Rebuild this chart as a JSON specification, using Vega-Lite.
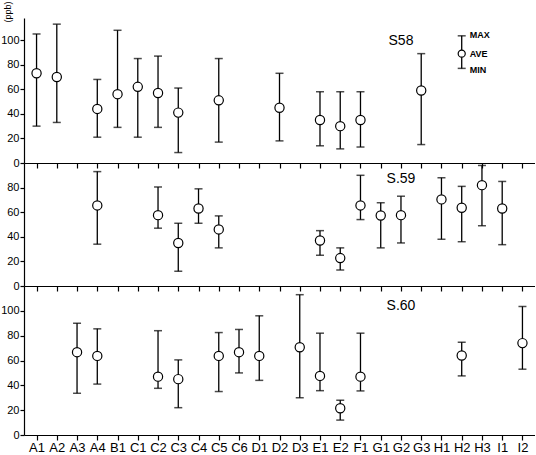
{
  "$schema": "https://vega.github.io/schema/vega-lite/v6.json",
  "padding": {"left": 0, "top": 0, "right": 0, "bottom": 0},
  "spacing": 0,
  "bounds": "flush",
  "config": {
    "font": "Liberation Sans",
    "view": {"stroke": null},
    "axis": {"domainColor": "#000", "tickColor": "#000", "labelColor": "#000", "grid": false, "domainWidth": 1.2, "tickWidth": 1.2, "titleColor": "#000", "labelOverlap": false},
    "axisY": {"labelOverlap": false, "labelFontSize": 11, "tickSize": 4, "labelPadding": 1},
    "concat": {"spacing": 0}
  },
  "datasets": {
    "s58": [
      {"site": "A1", "max": 105, "ave": 73, "min": 30},
      {"site": "A2", "max": 113, "ave": 70, "min": 33},
      {"site": "A4", "max": 68, "ave": 44, "min": 21},
      {"site": "B1", "max": 108, "ave": 56, "min": 29},
      {"site": "C1", "max": 85, "ave": 62, "min": 21},
      {"site": "C2", "max": 87, "ave": 57, "min": 29},
      {"site": "C3", "max": 61, "ave": 41, "min": 8.5},
      {"site": "C5", "max": 85, "ave": 51, "min": 17},
      {"site": "D2", "max": 73, "ave": 45, "min": 18},
      {"site": "E1", "max": 58, "ave": 35, "min": 14},
      {"site": "E2", "max": 58, "ave": 30, "min": 11.5},
      {"site": "F1", "max": 58, "ave": 35, "min": 13},
      {"site": "G3", "max": 89, "ave": 59, "min": 15}
    ],
    "s59": [
      {"site": "A4", "max": 93, "ave": 65.5, "min": 34},
      {"site": "C2", "max": 80.5, "ave": 57.6, "min": 47},
      {"site": "C3", "max": 51, "ave": 35, "min": 12},
      {"site": "C4", "max": 79, "ave": 63, "min": 51},
      {"site": "C5", "max": 57, "ave": 46, "min": 31},
      {"site": "E1", "max": 45, "ave": 37, "min": 25},
      {"site": "E2", "max": 31, "ave": 22.7, "min": 13},
      {"site": "F1", "max": 90, "ave": 65.5, "min": 54},
      {"site": "G1", "max": 67.7, "ave": 57.3, "min": 31},
      {"site": "G2", "max": 73, "ave": 57.6, "min": 35},
      {"site": "H1", "max": 88, "ave": 70.4, "min": 38},
      {"site": "H2", "max": 81, "ave": 63.6, "min": 36},
      {"site": "H3", "max": 98, "ave": 82, "min": 49},
      {"site": "I1", "max": 85, "ave": 63, "min": 33.6}
    ],
    "s60": [
      {"site": "A3", "max": 90, "ave": 66.7, "min": 33.6},
      {"site": "A4", "max": 85.5, "ave": 63.7, "min": 41},
      {"site": "C2", "max": 84, "ave": 47, "min": 37.6},
      {"site": "C3", "max": 60.5, "ave": 45, "min": 22},
      {"site": "C5", "max": 82.5, "ave": 63.7, "min": 35},
      {"site": "C6", "max": 85, "ave": 66.7, "min": 50},
      {"site": "D1", "max": 96, "ave": 63.7, "min": 44},
      {"site": "D3", "max": 113, "ave": 70.7, "min": 30},
      {"site": "E1", "max": 82, "ave": 47.6, "min": 35.7},
      {"site": "E2", "max": 28, "ave": 21.5, "min": 12},
      {"site": "F1", "max": 82, "ave": 47, "min": 35.5},
      {"site": "H2", "max": 74.7, "ave": 64, "min": 47.6},
      {"site": "I2", "max": 103.5, "ave": 74, "min": 53}
    ],
    "legend": [
      {"site": "H2", "max": 103.5, "ave": 89, "min": 77}
    ],
    "legendText": [
      {"site": "H2", "v": 104, "t": "MAX"},
      {"site": "H2", "v": 89, "t": "AVE"},
      {"site": "H2", "v": 76, "t": "MIN"}
    ]
  },
  "vconcat": [
    {
      "width": 511,
      "height": 145,
      "encoding": {
        "x": {"field": "site", "type": "nominal", "scale": {"type": "point", "padding": 0.62, "domain": ["A1","A2","A3","A4","B1","C1","C2","C3","C4","C5","C6","D1","D2","D3","E1","E2","F1","G1","G2","G3","H1","H2","H3","I1","I2"]}, "axis": {"labels": false, "title": null, "tickSize": 5}}
      },
      "layer": [
        {
          "data": {"name": "s58"},
          "mark": {"type": "rule", "color": "#000", "strokeWidth": 1.3},
          "encoding": {
            "y": {"field": "min", "type": "quantitative", "scale": {"domain": [0, 118], "nice": false}, "axis": {"values": [0,20,40,60,80,100], "labelOverlap": false, "title": "(ppb)", "titleFontSize": 9, "titleFontWeight": "normal", "titleAngle": -90, "titleAlign": "left", "titleBaseline": "middle", "titleX": -17, "titleY": 4}},
            "y2": {"field": "max"}
          }
        },
        {
          "data": {"name": "s58"},
          "mark": {"type": "tick", "color": "#000", "thickness": 1.5, "size": 8, "orient": "horizontal"},
          "encoding": {"y": {"field": "max", "type": "quantitative", "axis": {"values": [0,20,40,60,80,100], "labelOverlap": false, "title": "(ppb)", "titleFontSize": 9, "titleFontWeight": "normal", "titleAngle": -90, "titleAlign": "left", "titleBaseline": "middle", "titleX": -17, "titleY": 4}}}
        },
        {
          "data": {"name": "s58"},
          "mark": {"type": "tick", "color": "#000", "thickness": 1.5, "size": 8, "orient": "horizontal"},
          "encoding": {"y": {"field": "min", "type": "quantitative", "axis": {"values": [0,20,40,60,80,100], "labelOverlap": false, "title": "(ppb)", "titleFontSize": 9, "titleFontWeight": "normal", "titleAngle": -90, "titleAlign": "left", "titleBaseline": "middle", "titleX": -17, "titleY": 4}}}
        },
        {
          "data": {"name": "s58"},
          "mark": {"type": "point", "shape": "circle", "filled": true, "fill": "#fff", "stroke": "#000", "strokeWidth": 1.2, "size": 85, "opacity": 1},
          "encoding": {"y": {"field": "ave", "type": "quantitative", "axis": {"values": [0,20,40,60,80,100], "labelOverlap": false, "title": "(ppb)", "titleFontSize": 9, "titleFontWeight": "normal", "titleAngle": -90, "titleAlign": "left", "titleBaseline": "middle", "titleX": -17, "titleY": 4}}}
        },
        {
          "data": {"name": "legend"},
          "mark": {"type": "rule", "color": "#000", "strokeWidth": 1.3},
          "encoding": {"y": {"field": "min", "type": "quantitative", "axis": {"values": [0,20,40,60,80,100], "labelOverlap": false, "title": "(ppb)", "titleFontSize": 9, "titleFontWeight": "normal", "titleAngle": -90, "titleAlign": "left", "titleBaseline": "middle", "titleX": -17, "titleY": 4}}, "y2": {"field": "max"}}
        },
        {
          "data": {"name": "legend"},
          "mark": {"type": "tick", "color": "#000", "thickness": 1.5, "size": 8, "orient": "horizontal"},
          "encoding": {"y": {"field": "max", "type": "quantitative", "axis": {"values": [0,20,40,60,80,100], "labelOverlap": false, "title": "(ppb)", "titleFontSize": 9, "titleFontWeight": "normal", "titleAngle": -90, "titleAlign": "left", "titleBaseline": "middle", "titleX": -17, "titleY": 4}}}
        },
        {
          "data": {"name": "legend"},
          "mark": {"type": "tick", "color": "#000", "thickness": 1.5, "size": 8, "orient": "horizontal"},
          "encoding": {"y": {"field": "min", "type": "quantitative", "axis": {"values": [0,20,40,60,80,100], "labelOverlap": false, "title": "(ppb)", "titleFontSize": 9, "titleFontWeight": "normal", "titleAngle": -90, "titleAlign": "left", "titleBaseline": "middle", "titleX": -17, "titleY": 4}}}
        },
        {
          "data": {"name": "legend"},
          "mark": {"type": "point", "shape": "circle", "filled": true, "fill": "#fff", "stroke": "#000", "strokeWidth": 1.2, "size": 50, "opacity": 1},
          "encoding": {"y": {"field": "ave", "type": "quantitative", "axis": {"values": [0,20,40,60,80,100], "labelOverlap": false, "title": "(ppb)", "titleFontSize": 9, "titleFontWeight": "normal", "titleAngle": -90, "titleAlign": "left", "titleBaseline": "middle", "titleX": -17, "titleY": 4}}}
        },
        {
          "data": {"name": "legendText"},
          "mark": {"type": "text", "align": "left", "baseline": "middle", "dx": 8, "fontSize": 9, "fontWeight": "bold", "color": "#000"},
          "encoding": {"y": {"field": "v", "type": "quantitative", "axis": {"values": [0,20,40,60,80,100], "labelOverlap": false, "title": "(ppb)", "titleFontSize": 9, "titleFontWeight": "normal", "titleAngle": -90, "titleAlign": "left", "titleBaseline": "middle", "titleX": -17, "titleY": 4}}, "text": {"field": "t"}}
        },
        {
          "data": {"values": [{"site": "G2", "v": 99, "t": "S58"}]},
          "mark": {"type": "text", "fontSize": 14, "color": "#000"},
          "encoding": {"y": {"field": "v", "type": "quantitative", "axis": {"values": [0,20,40,60,80,100], "labelOverlap": false, "title": "(ppb)", "titleFontSize": 9, "titleFontWeight": "normal", "titleAngle": -90, "titleAlign": "left", "titleBaseline": "middle", "titleX": -17, "titleY": 4}}, "text": {"field": "t"}}
        }
      ]
    },
    {
      "width": 511,
      "height": 123,
      "encoding": {
        "x": {"field": "site", "type": "nominal", "scale": {"type": "point", "padding": 0.62, "domain": ["A1","A2","A3","A4","B1","C1","C2","C3","C4","C5","C6","D1","D2","D3","E1","E2","F1","G1","G2","G3","H1","H2","H3","I1","I2"]}, "axis": {"labels": false, "title": null, "tickSize": 5}}
      },
      "layer": [
        {
          "data": {"name": "s59"},
          "mark": {"type": "rule", "color": "#000", "strokeWidth": 1.3},
          "encoding": {
            "y": {"field": "min", "type": "quantitative", "scale": {"domain": [0, 100], "nice": false}, "axis": {"values": [0,20,40,60,80], "labelOverlap": false, "title": null}},
            "y2": {"field": "max"}
          }
        },
        {
          "data": {"name": "s59"},
          "mark": {"type": "tick", "color": "#000", "thickness": 1.5, "size": 8, "orient": "horizontal"},
          "encoding": {"y": {"field": "max", "type": "quantitative", "axis": {"values": [0,20,40,60,80], "labelOverlap": false, "title": null}}}
        },
        {
          "data": {"name": "s59"},
          "mark": {"type": "tick", "color": "#000", "thickness": 1.5, "size": 8, "orient": "horizontal"},
          "encoding": {"y": {"field": "min", "type": "quantitative", "axis": {"values": [0,20,40,60,80], "labelOverlap": false, "title": null}}}
        },
        {
          "data": {"name": "s59"},
          "mark": {"type": "point", "shape": "circle", "filled": true, "fill": "#fff", "stroke": "#000", "strokeWidth": 1.2, "size": 85, "opacity": 1},
          "encoding": {"y": {"field": "ave", "type": "quantitative", "axis": {"values": [0,20,40,60,80], "labelOverlap": false, "title": null}}}
        },
        {
          "data": {"values": [{"site": "G2", "v": 87, "t": "S.59"}]},
          "mark": {"type": "text", "fontSize": 14, "color": "#000"},
          "encoding": {"y": {"field": "v", "type": "quantitative", "axis": {"values": [0,20,40,60,80], "labelOverlap": false, "title": null}}, "text": {"field": "t"}}
        }
      ]
    },
    {
      "width": 511,
      "height": 149,
      "encoding": {
        "x": {"field": "site", "type": "nominal", "scale": {"type": "point", "padding": 0.62, "domain": ["A1","A2","A3","A4","B1","C1","C2","C3","C4","C5","C6","D1","D2","D3","E1","E2","F1","G1","G2","G3","H1","H2","H3","I1","I2"]}, "axis": {"title": null, "tickSize": 5, "labelAngle": 0, "labelFontSize": 13, "labelPadding": 1}}
      },
      "layer": [
        {
          "data": {"name": "s60"},
          "mark": {"type": "rule", "color": "#000", "strokeWidth": 1.3},
          "encoding": {
            "y": {"field": "min", "type": "quantitative", "scale": {"domain": [0, 120], "nice": false}, "axis": {"values": [0,20,40,60,80,100], "labelOverlap": false, "title": null}},
            "y2": {"field": "max"}
          }
        },
        {
          "data": {"name": "s60"},
          "mark": {"type": "tick", "color": "#000", "thickness": 1.5, "size": 8, "orient": "horizontal"},
          "encoding": {"y": {"field": "max", "type": "quantitative", "axis": {"values": [0,20,40,60,80,100], "labelOverlap": false, "title": null}}}
        },
        {
          "data": {"name": "s60"},
          "mark": {"type": "tick", "color": "#000", "thickness": 1.5, "size": 8, "orient": "horizontal"},
          "encoding": {"y": {"field": "min", "type": "quantitative", "axis": {"values": [0,20,40,60,80,100], "labelOverlap": false, "title": null}}}
        },
        {
          "data": {"name": "s60"},
          "mark": {"type": "point", "shape": "circle", "filled": true, "fill": "#fff", "stroke": "#000", "strokeWidth": 1.2, "size": 85, "opacity": 1},
          "encoding": {"y": {"field": "ave", "type": "quantitative", "axis": {"values": [0,20,40,60,80,100], "labelOverlap": false, "title": null}}}
        },
        {
          "data": {"values": [{"site": "G2", "v": 103.5, "t": "S.60"}]},
          "mark": {"type": "text", "fontSize": 14, "color": "#000"},
          "encoding": {"y": {"field": "v", "type": "quantitative", "axis": {"values": [0,20,40,60,80,100], "labelOverlap": false, "title": null}}, "text": {"field": "t"}}
        }
      ]
    }
  ]
}
